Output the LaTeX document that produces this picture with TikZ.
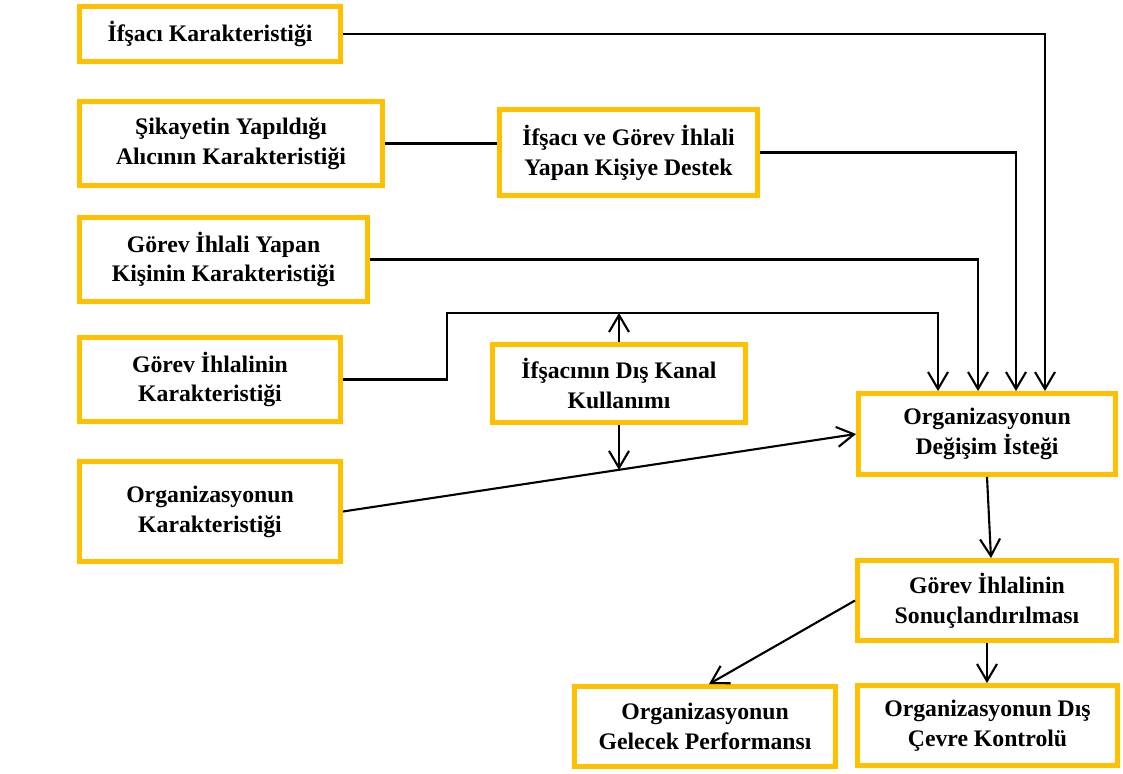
\documentclass[tikz,border=0pt]{standalone}
\usepackage{fontspec}
\setmainfont{Liberation Serif}
\usetikzlibrary{arrows.meta,calc}
\definecolor{boxyellow}{HTML}{FFC000}
\tikzset{
	kutu/.style={draw=boxyellow, line width=2.8pt, fill=white, align=center, inner sep=0pt,
		font=\fontsize{13.5}{17}\selectfont\bfseries},
	ok/.style={draw=black, line width=1.2pt, -{Straight Barb[length=0.34cm,width=0.40cm]}},
	cizgi/.style={draw=black, line width=1.2pt}
}
\begin{document}
\begin{tikzpicture}
		\useasboundingbox (0,0) rectangle (22.46,15.46);
		\node[kutu, minimum width=5.22cm, minimum height=1.10cm] (ifsaci) at (4.20,14.78) {İfşacı Karakteristiği};
		\node[kutu, minimum width=6.06cm, minimum height=1.68cm] (sikayet) at (4.62,12.59) {Şikayetin Yapıldığı\\Alıcının Karakteristiği};
		\node[kutu, minimum width=5.16cm, minimum height=1.72cm] (destek) at (12.57,12.41) {İfşacı ve Görev İhlali\\Yapan Kişiye Destek};
		\node[kutu, minimum width=5.76cm, minimum height=1.68cm] (ihlalyapan) at (4.47,10.27) {Görev İhlali Yapan\\Kişinin Karakteristiği};
		\node[kutu, minimum width=5.22cm, minimum height=1.68cm] (ihlalkar) at (4.20,7.87) {Görev İhlalinin\\Karakteristiği};
		\node[kutu, minimum width=5.06cm, minimum height=1.56cm] (diskanal) at (12.38,7.79) {İfşacının Dış Kanal\\Kullanımı};
		\node[kutu, minimum width=5.22cm, minimum height=2.00cm] (orgkar) at (4.20,5.23) {Organizasyonun\\Karakteristiği};
		\node[kutu, minimum width=5.14cm, minimum height=1.62cm] (degisim) at (19.74,6.78) {Organizasyonun\\Değişim İsteği};
		\node[kutu, minimum width=5.18cm, minimum height=1.60cm] (sonuc) at (19.74,3.45) {Görev İhlalinin\\Sonuçlandırılması};
		\node[kutu, minimum width=5.22cm, minimum height=1.60cm] (performans) at (14.10,0.93) {Organizasyonun\\Gelecek Performansı};
		\node[kutu, minimum width=5.20cm, minimum height=1.60cm] (cevre) at (19.75,0.95) {Organizasyonun Dış\\Çevre Kontrolü};
		\coordinate (kanalust) at (12.38,9.20);
		\coordinate (kanalalt) at ($(orgkar.east)!0.536!(degisim.west)$);
		\draw[ok] (ifsaci.east) -| ([xshift=1.16cm]degisim.north);
		\draw[cizgi] (sikayet.east) -- (sikayet.east -| destek.west);
		\draw[ok] (destek.east) -| ([xshift=0.58cm]degisim.north);
		\draw[ok] (ihlalyapan.east) -| ([xshift=-0.18cm]degisim.north);
		\draw[ok] (ihlalkar.east) -- ++(2.08,0) |- (kanalust) -| ([xshift=-0.98cm]degisim.north);
		\draw[ok] (diskanal.north) -- (kanalust);
		\draw[ok] (orgkar.east) -- (degisim.west);
		\draw[ok] (diskanal.south) -- (diskanal.south |- kanalalt);
		\draw[ok] (degisim.south) -- ([xshift=0.08cm]sonuc.north);
		\draw[ok] (sonuc.west) -- ([xshift=0.08cm]performans.north);
		\draw[ok] (sonuc.south) -- (sonuc.south |- cevre.north);
	\end{tikzpicture}
\end{document}
